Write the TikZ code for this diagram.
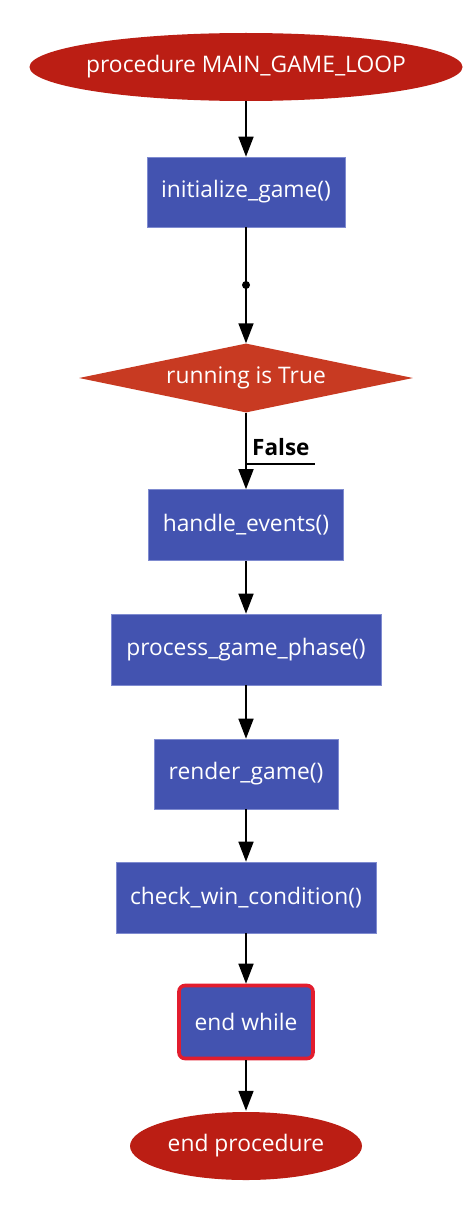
\documentclass[tikz,border=0pt]{standalone}
\usepackage{fontspec}
\setmainfont{Open Sans}
\usetikzlibrary{shapes.geometric,arrows.meta}
\definecolor{termred}{HTML}{BB1E14}
\definecolor{decred}{HTML}{C83A22}
\definecolor{procblue}{HTML}{4353B0}
\definecolor{procedge}{HTML}{7F8BD0}
\definecolor{loopred}{HTML}{E21D2E}
\tikzset{
  lbl/.style={font=\fontsize{22.8}{27}\selectfont},
  term/.style={rectangle, draw=none, text=white, lbl, inner sep=0pt,
    path picture={\fill[termred] (path picture bounding box.center) ellipse [x radius=#1/2, y radius=34pt];}},
  proc/.style={rectangle, fill=procblue, draw=procedge, line width=0.6pt, text=white, lbl, inner sep=0pt},
  dec/.style={diamond, fill=decred, draw=none, text=white, lbl, inner sep=0pt},
  loopend/.style={proc, draw=loopred, line width=3.6pt, rounded corners=6pt},
  flow/.style={draw=black, line width=1.6pt, -{Triangle[length=20pt,width=15pt]}},
  plain/.style={draw=black, line width=1.6pt},
}
\begin{document}
\begin{tikzpicture}[x=1pt,y=-1pt]
\useasboundingbox (0,0) rectangle (472,1212);
\node[term=433pt, minimum width=433pt, minimum height=68pt] (start) at (246,67) {procedure MAIN\_GAME\_LOOP};
\node[proc, minimum width=198pt, minimum height=70pt] (init) at (246,192) {initialize\_game()};
\coordinate (j) at (246,285);
\fill[black] (j) circle (4pt);
\node[dec, minimum width=334pt, minimum height=69pt, aspect=4.84] (cond) at (246,378) {running is True};
\node[proc, minimum width=195pt, minimum height=71pt] (handle) at (246,525) {handle\_events()};
\node[proc, minimum width=270pt, minimum height=71pt] (phase) at (246,649.5) {process\_game\_phase()};
\node[proc, minimum width=184pt, minimum height=70pt] (render) at (246,774) {render\_game()};
\node[proc, minimum width=260pt, minimum height=71pt] (check) at (246,897.5) {check\_win\_condition()};
\node[loopend, minimum width=134pt, minimum height=73pt] (endw) at (246,1022) {end while};
\node[term=232pt, minimum width=232pt, minimum height=70pt] (stop) at (246,1146) {end procedure};

\draw[flow] (start) -- (init);
\draw[plain] (init) -- (j);
\draw[flow] (j) -- (cond);
\draw[flow] (cond) -- (handle);
\node[font=\bfseries\fontsize{22.5}{26}\selectfont, anchor=base west, inner sep=0pt] (flab) at (252,455) {False};
\draw[black, line width=1.2pt] (247,464) -- (315,464);
\draw[flow] (handle) -- (phase);
\draw[flow] (phase) -- (render);
\draw[flow] (render) -- (check);
\draw[flow] (check) -- (endw);
\draw[flow] (endw) -- (stop);
\end{tikzpicture}
\end{document}
